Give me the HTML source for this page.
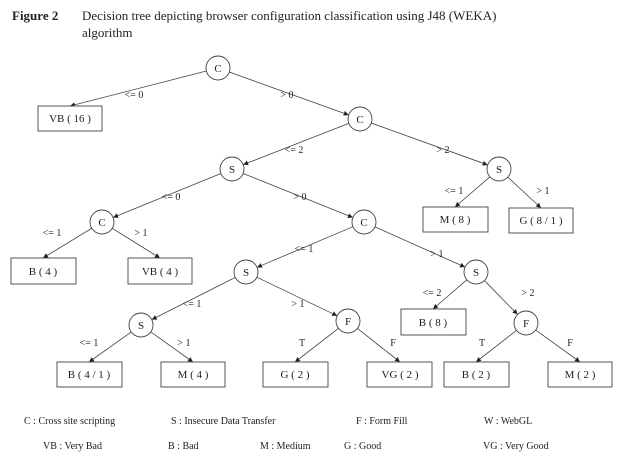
<!DOCTYPE html>
<html><head><meta charset="utf-8"><style>
body{margin:0;background:#fff;width:621px;height:460px;overflow:hidden}
svg{position:absolute;left:0;top:0}
text{font-family:"Liberation Serif",serif;fill:#222}
</style></head><body>
<svg id="s" width="621" height="460" viewBox="0 0 621 460">
<defs><marker id="a" markerWidth="6" markerHeight="6" refX="5" refY="3" orient="auto" markerUnits="userSpaceOnUse"><path d="M0,0.5 L5,3 L0,5.5z" fill="#222"/></marker></defs>
<g id="lines" stroke="#444" stroke-width="0.8"></g>
<g fill="#fff" stroke="#444" stroke-width="0.9">
<circle cx="218" cy="68" r="12"/><circle cx="360" cy="119" r="12"/>
<circle cx="232" cy="169" r="12"/><circle cx="499" cy="169" r="12"/>
<circle cx="102" cy="222" r="12"/><circle cx="364" cy="222" r="12"/>
<circle cx="246" cy="272" r="12"/><circle cx="476" cy="272" r="12"/>
<circle cx="141" cy="325" r="12"/><circle cx="348" cy="321" r="12"/><circle cx="526" cy="323" r="12"/>
<rect x="38" y="106" width="64" height="25"/>
<rect x="423" y="207" width="65" height="25"/><rect x="509" y="208" width="64" height="25"/>
<rect x="11" y="258" width="65" height="26"/><rect x="128" y="258" width="64" height="26"/>
<rect x="401" y="309" width="65" height="26"/>
<rect x="57" y="362" width="65" height="25"/><rect x="161" y="362" width="64" height="25"/>
<rect x="263" y="362" width="65" height="25"/><rect x="367" y="362" width="65" height="25"/>
<rect x="444" y="362" width="65" height="25"/><rect x="548" y="362" width="64" height="25"/>
</g>
<g font-size="11" text-anchor="middle">
<text x="218" y="72">C</text><text x="360" y="123">C</text>
<text x="232" y="173">S</text><text x="499" y="173">S</text>
<text x="102" y="226">C</text><text x="364" y="226">C</text>
<text x="246" y="276">S</text><text x="476" y="276">S</text>
<text x="141" y="329">S</text><text x="348" y="325">F</text><text x="526" y="327">F</text>
<text x="70" y="122">VB ( 16 )</text>
<text x="455" y="223">M ( 8 )</text><text x="541" y="224">G ( 8 / 1 )</text>
<text x="43" y="275">B ( 4 )</text><text x="160" y="275">VB ( 4 )</text>
<text x="433" y="326">B ( 8 )</text>
<text x="89" y="378">B ( 4 / 1 )</text><text x="193" y="378">M ( 4 )</text>
<text x="295" y="378">G ( 2 )</text><text x="400" y="378">VG ( 2 )</text>
<text x="476" y="378">B ( 2 )</text><text x="580" y="378">M ( 2 )</text>
</g>
<g font-size="10" text-anchor="middle">
<text x="134" y="98">&lt;= 0</text><text x="287" y="98">&gt; 0</text>
<text x="294" y="153">&lt;= 2</text><text x="443" y="153">&gt; 2</text>
<text x="171" y="200">&lt;= 0</text><text x="300" y="200">&gt; 0</text>
<text x="454" y="194">&lt;= 1</text><text x="543" y="194">&gt; 1</text>
<text x="52" y="236">&lt;= 1</text><text x="141" y="236">&gt; 1</text>
<text x="304" y="252">&lt;= 1</text><text x="437" y="257">&gt; 1</text>
<text x="192" y="307">&lt;= 1</text><text x="298" y="307">&gt; 1</text>
<text x="432" y="296">&lt;= 2</text><text x="528" y="296">&gt; 2</text>
<text x="89" y="346">&lt;= 1</text><text x="184" y="346">&gt; 1</text>
<text x="302" y="346">T</text><text x="393" y="346">F</text>
<text x="482" y="346">T</text><text x="570" y="346">F</text>
</g>
<g font-size="10">
<text x="24" y="424">C : Cross site scripting</text>
<text x="171" y="424">S : Insecure Data Transfer</text>
<text x="356" y="424">F : Form Fill</text>
<text x="484" y="424">W : WebGL</text>
<text x="43" y="449">VB : Very Bad</text>
<text x="168" y="449">B : Bad</text>
<text x="260" y="449">M : Medium</text>
<text x="344" y="449">G : Good</text>
<text x="483" y="449">VG : Very Good</text>
</g>
<text x="12" y="20" font-size="13" font-weight="bold">Figure 2</text>
<text x="82" y="20" font-size="13">Decision tree depicting browser configuration classification using J48 (WEKA)</text>
<text x="82" y="37" font-size="13">algorithm</text>
</svg>
<script>
var E=[[218,68,70,106,0],[218,68,360,119,1],[360,119,232,169,1],[360,119,499,169,1],
[232,169,102,222,1],[232,169,364,222,1],[499,169,455,207,0],[499,169,541,208,0],
[102,222,43,258,0],[102,222,160,258,0],[364,222,246,272,1],[364,222,476,272,1],
[246,272,141,325,1],[246,272,348,321,1],[476,272,433,309,0],[476,272,526,323,1],
[141,325,89,362,0],[141,325,193,362,0],[348,321,295,362,0],[348,321,400,362,0],
[526,323,476,362,0],[526,323,580,362,0]];
var g=document.getElementById('lines'),r=12;
E.forEach(function(e){var dx=e[2]-e[0],dy=e[3]-e[1],L=Math.sqrt(dx*dx+dy*dy),ux=dx/L,uy=dy/L;
var x1=e[0]+ux*r,y1=e[1]+uy*r,x2=e[2],y2=e[3];if(e[4]){x2-=ux*r;y2-=uy*r;}
var l=document.createElementNS('http://www.w3.org/2000/svg','line');
l.setAttribute('x1',x1);l.setAttribute('y1',y1);l.setAttribute('x2',x2);l.setAttribute('y2',y2);
l.setAttribute('marker-end','url(#a)');g.appendChild(l);});
</script>
</body></html>
